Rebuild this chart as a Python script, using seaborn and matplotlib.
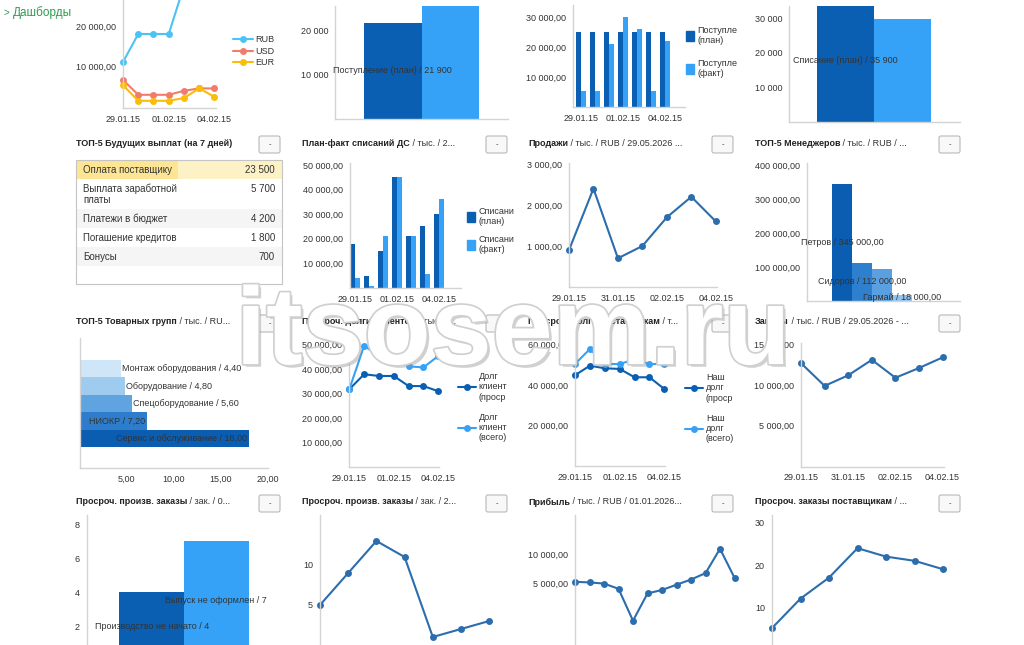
import numpy as np
import pandas as pd
import seaborn as sns
import matplotlib.pyplot as plt
import matplotlib.patheffects as pe
from matplotlib.patches import Rectangle, FancyBboxPatch, Patch
from matplotlib.lines import Line2D

sns.set_style("white")
plt.rcParams['font.family'] = ['Liberation Sans', 'DejaVu Sans']

W, H = 1024, 645
DARK = "#0b5fb3"
LIGHT = "#35a2f7"
STEEL = "#2c6dad"
TXT = "#333333"
GRID = "#d3d3d3"

# --- data ---
days = ["29.01.15", "30.01.15", "31.01.15", "01.02.15", "02.02.15", "03.02.15", "04.02.15"]

cash_rub = [11000, 18000, 18000, 18000, 30000, 30000, 30000]
cash_usd = [6500, 2800, 2800, 2800, 3800, 4400, 4400]
cash_eur = [5200, 1300, 1300, 1300, 2000, 4400, 2300]

income_names = ["Поступление (план)", "Поступление (факт)"]
income_totals = [21900, 25700]
income_plan = [25000, 25000, 25000, 25000, 25000, 25000, 25000]
income_fact = [5500, 5500, 21000, 30000, 26000, 5500, 22000]

spend_names = ["Списание (план)", "Списание (факт)"]
spend_totals = [35900, 29800]
spend_plan = [18000, 5000, 15000, 45000, 21000, 25000, 30000]
spend_fact = [4000, 1000, 21000, 45000, 21000, 5500, 36000]

pay_names = ["Оплата поставщику", "Выплата заработной\nплаты", "Платежи в бюджет",
             "Погашение кредитов", "Бонусы"]
pay_values = [23500, 5700, 4200, 1800, 700]

sales = [900, 2400, 700, 1000, 1700, 2200, 1600]

mgr_names = ["Петров", "Сидоров", "Менеджер", "Гармай"]
mgr_values = [345000, 112000, 95000, 18000]
mgr_shown = [True, True, False, True]

group_names = ["Монтаж оборудования", "Оборудование", "Спецоборудование", "НИОКР",
               "Сервис и обслуживание"]
group_values = [4.40, 4.80, 5.60, 7.20, 18.00]

clients_overdue = [31700, 37800, 37100, 37100, 33000, 33000, 30900]
clients_total = [31700, 49400, 45200, 45200, 41000, 40600, 45200]
suppl_overdue = [44800, 49500, 48200, 47900, 43800, 43800, 38000]
suppl_total = [50300, 57700, 50300, 50300, 52600, 50300, 50300]
stock = [12700, 9900, 11200, 13100, 10900, 12100, 13400]

prod_names = ["Производство не начато", "Выпуск не оформлен"]
prod_values = [4, 7]
prod_orders = [5, 9, 13, 11, 1, 2, 3]
profit = [5200, 5100, 4900, 4000, -1500, 3200, 3800, 4700, 5600, 6700, 10900, 5900]
suppl_orders = [5, 12, 17, 24, 22, 21, 19]

fig = plt.figure(figsize=(W / 100, H / 100), dpi=100)
fig.patch.set_facecolor("white")


def px_axes(l, t, r, b):
    return fig.add_axes([l / W, 1 - b / H, (r - l) / W, (b - t) / H])


def ru(v, dec=2):
    return f"{v:,.{dec}f}".replace(",", " ").replace(".", ",")


def style(ax, yticks=(), dec=2, xticks=(), xlabels=()):
    sns.despine(ax=ax)
    for side in ("left", "bottom"):
        ax.spines[side].set_color(GRID)
        ax.spines[side].set_linewidth(1)
    ax.tick_params(length=3, width=0.8, color=GRID, labelsize=6.5, labelcolor=TXT, pad=2)
    ax.set_xlabel("")
    ax.set_ylabel("")
    ax.patch.set_alpha(0)
    ax.set_yticks(list(yticks))
    ax.set_yticklabels([ru(v, dec) for v in yticks])
    ax.set_xticks(list(xticks))
    ax.set_xticklabels(list(xlabels))


def line(ax, y, color):
    sns.lineplot(x=np.arange(len(y)), y=y, color=color, marker="o", markersize=5,
                 markeredgewidth=0, linewidth=1.5, ax=ax, clip_on=False)


def legend(ax, handles, labels, x, y, **kw):
    leg = ax.legend(handles, labels, loc="upper left", bbox_to_anchor=(x / W, 1 - y / H),
                    bbox_transform=fig.transFigure, frameon=False, fontsize=6.5,
                    borderpad=0, borderaxespad=0, **kw)
    for t in leg.get_texts():
        t.set_color(TXT)


def grouped(ax, plan, fact, names):
    df = pd.DataFrame({"day": days * 2, "series": [names[0]] * 7 + [names[1]] * 7,
                       "value": plan + fact})
    sns.barplot(data=df, x="day", y="value", hue="series", palette=[DARK, LIGHT],
                saturation=1, width=0.72, linewidth=0, legend=False, ax=ax)


def pair_bars(ax, names, values, dec=0, colors=(DARK, LIGHT)):
    sns.barplot(x=names, y=values, hue=names, palette=list(colors), width=1,
                saturation=1, linewidth=0, legend=False, ax=ax)
    ax.text(0, values[0] / 2, f"{names[0]} / {ru(values[0], dec)}", ha="center",
            va="center", fontsize=6.5, color=TXT)


sq = dict(handlelength=0.9, handleheight=1.3, handletextpad=0.4)

# --- row 1 ---
axA = px_axes(123, -20, 216, 108)
line(axA, cash_rub, "#4cc3f5")
line(axA, cash_usd, "#f27c6b")
line(axA, cash_eur, "#fbbd08")
axA.set_xlim(0, 6.1)
axA.set_ylim(-500, 31500)
style(axA, [10000, 20000], 2, [0, 3, 6], [days[0], days[3], days[6]])
legend(axA, [Line2D([], [], color=c, marker="o", markersize=5, lw=1.5, markeredgewidth=0)
             for c in ("#4cc3f5", "#f27c6b", "#fbbd08")], ["RUB", "USD", "EUR"], 233, 35,
       handlelength=2.2, handletextpad=0.3, labelspacing=0.3)

axB = px_axes(335, 6, 508, 119)
pair_bars(axB, income_names, income_totals)
axB.set_xlim(-1, 2)
axB.set_ylim(0, 25680)
style(axB, [10000, 20000], 0)

axC = px_axes(573, 5, 685, 107)
grouped(axC, income_plan, income_fact, income_names)
axC.set_xlim(-0.57, 7.43)
axC.set_ylim(0, 34000)
style(axC, [10000, 20000, 30000], 2, [0, 3, 6], [days[0], days[3], days[6]])
legend(axC, [Patch(color=DARK), Patch(color=LIGHT)], ["Поступле\n(план)", "Поступле\n(факт)"],
       686, 26, labelspacing=1.5, **sq)

axD = px_axes(789, 6, 960, 122)
pair_bars(axD, spend_names, spend_totals)
axD.set_xlim(-0.99, 2.01)
axD.set_ylim(0, 33620)
style(axD, [10000, 20000, 30000], 0)

# --- row 2 ---
axF = px_axes(350, 163, 461, 288)
grouped(axF, spend_plan, spend_fact, spend_names)
axF.set_xlim(-0.36, 7.57)
axF.set_ylim(0, 50800)
style(axF, [10000, 20000, 30000, 40000, 50000], 2, [0, 3, 6], [days[0], days[3], days[6]])
legend(axF, [Patch(color=DARK), Patch(color=LIGHT)], ["Списани\n(план)", "Списани\n(факт)"],
       467, 207, labelspacing=0.9, **sq)

axG = px_axes(569, 163, 717, 287)
line(axG, sales, STEEL)
axG.set_xlim(0, 6.05)
axG.set_ylim(0, 3024)
style(axG, [1000, 2000, 3000], 2, [0, 2, 4, 6], days[::2])

axH = px_axes(807, 163, 960, 301)
sns.barplot(x=mgr_names, y=mgr_values, hue=mgr_names, saturation=1,
            palette=["#0a5db0", "#2f7fcf", "#5aa0e0", "#90c4f0"], width=1, linewidth=0,
            legend=False, ax=axH)
for i, (n, v, s) in enumerate(zip(mgr_names, mgr_values, mgr_shown)):
    if s:
        axH.text(i, v / 2, f"{n} / {ru(v)}", ha="center", va="center", fontsize=6.5, color=TXT)
axH.set_xlim(-1.75, 5.9)
axH.set_ylim(0, 405900)
style(axH, [100000, 200000, 300000, 400000], 2)

# --- row 3 ---
axI = px_axes(79.5, 338, 268, 468)
sns.barplot(x=group_values, y=group_names, hue=group_names, orient="h", saturation=1,
            palette=["#cfe5f8", "#9fcbef", "#5fa3e0", "#2d7dcc", "#0a5db0"], width=1,
            linewidth=0, legend=False, ax=axI)
for i, (n, v) in enumerate(zip(group_names, group_values)):
    if v >= 7:
        axI.text(v - 0.2, i, f"{n} / {ru(v)}", ha="right", va="center", fontsize=6.5, color=TXT)
    else:
        axI.text(v + 0.1, i, f"{n} / {ru(v)}", ha="left", va="center", fontsize=6.5, color=TXT)
axI.set_xlim(0, 20)
axI.set_ylim(5.71, -1.76)
style(axI, (), 2, [5, 10, 15, 20], [ru(v) for v in (5, 10, 15, 20)])

axJ = px_axes(349.3, 343, 439, 467.3)
line(axJ, clients_overdue, DARK)
line(axJ, clients_total, LIGHT)
axJ.set_xlim(0, 6.05)
axJ.set_ylim(0, 50500)
style(axJ, [10000, 20000, 30000, 40000, 50000], 2, [0, 3, 6], [days[0], days[3], days[6]])
legend(axJ, [Line2D([], [], color=c, marker="o", markersize=5, lw=1.5, markeredgewidth=0)
             for c in (DARK, LIGHT)], ["Долг\nклиент\n(проср", "Долг\nклиент\n(всего)"],
       458, 372, handlelength=2.0, handletextpad=0.3, labelspacing=1.2)

axK = px_axes(575, 342, 665.1, 466.4)
line(axK, suppl_overdue, DARK)
line(axK, suppl_total, LIGHT)
axK.set_xlim(0, 6.05)
axK.set_ylim(0, 61130)
style(axK, [20000, 40000, 60000], 2, [0, 3, 6], [days[0], days[3], days[6]])
legend(axK, [Line2D([], [], color=c, marker="o", markersize=5, lw=1.5, markeredgewidth=0)
             for c in (DARK, LIGHT)], ["Наш\nдолг\n(проср", "Наш\nдолг\n(всего)"],
       685, 373, handlelength=2.0, handletextpad=0.3, labelspacing=1.2)

axL = px_axes(801, 343, 943.8, 466.5)
line(axL, stock, STEEL)
axL.set_xlim(0, 6.05)
axL.set_ylim(0, 15170)
style(axL, [5000, 10000, 15000], 2, [0, 2, 4, 6], days[::2])

# --- row 4 ---
axM = px_axes(87, 515, 281, 660)
pair_bars(axM, prod_names, prod_values)
axM.text(1, prod_values[1] / 2, f"{prod_names[1]} / {prod_values[1]}", ha="center",
         va="center", fontsize=6.5, color=TXT)
axM.set_xlim(-1, 2)
axM.set_ylim(0, 8.53)
style(axM, [2, 4, 6, 8], 0)

axN = px_axes(320, 515, 320 + 6.1 * 28.2, 660)
line(axN, prod_orders, STEEL)
axN.set_xlim(0, 6.1)
axN.set_ylim(-1.875, 16.25)
style(axN, [5, 10], 0)

axO = px_axes(575, 515, 738, 660)
line(axO, profit, STEEL)
axO.set_xlim(0, 11.24)
axO.set_ylim(-8276, 16724)
style(axO, [5000, 10000], 2)

axP = px_axes(772, 515, 772 + 6.1 * 28.5, 660)
line(axP, suppl_orders, STEEL)
axP.set_xlim(0, 6.1)
axP.set_ylim(-2.6, 31.9)
style(axP, [10, 20, 30], 0)

# --- overlay: titles, table, buttons, watermark ---
ov = fig.add_axes([0, 0, 1, 1], zorder=10)
ov.set_xlim(0, W)
ov.set_ylim(H, 0)
ov.axis("off")
ov.patch.set_visible(False)

ov.text(3, 13, ">", color="#2e9c4f", fontsize=7, va="center")
ov.text(13, 13, "Дашборды", color="#2e9c4f", fontsize=8.5, va="center")

titles = [
    (76, 143, "ТОП-5 Будущих выплат (на 7 дней)", ""),
    (302, 143, "План-факт списаний ДС", " / тыс. / 2..."),
    (528, 143, "Продажи", " / тыс. / RUB / 29.05.2026 ..."),
    (755, 143, "ТОП-5 Менеджеров", " / тыс. / RUB / ..."),
    (76, 322, "ТОП-5 Товарных групп", " / тыс. / RU..."),
    (302, 322, "Просроч. долги клиентов", " / тыс. / ..."),
    (528, 322, "Просроч. долги поставщикам", " / т..."),
    (755, 322, "Запасы", " / тыс. / RUB / 29.05.2026 - ..."),
    (76, 502, "Просроч. произв. заказы", " / зак. / 0..."),
    (302, 502, "Просроч. произв. заказы", " / зак. / 2..."),
    (528, 502, "Прибыль", " / тыс. / RUB / 01.01.2026..."),
    (755, 502, "Просроч. заказы поставщикам", " / ..."),
]
for x, y, bold, rest in titles:
    t = ov.text(x, y, bold, fontsize=6.5, fontweight="bold", color="#222222", va="center")
    if rest:
        ov.annotate(rest, xy=(1, 0.5), xycoords=t, va="center", ha="left", fontsize=6.5,
                    color="#333333")

for bx in (259, 486, 712, 939):
    for by in (136, 315, 495):
        ov.add_patch(FancyBboxPatch((bx, by), 21, 17, boxstyle="round,pad=0,rounding_size=2",
                                    fc="#f8f8f8", ec="#b8b8b8", lw=0.8))
        ov.text(bx + 10.5, by + 8.5, "-", ha="center", va="center", fontsize=5.5, color="#333")

# table of payments
row_tops = [160, 179, 209, 228, 247]
row_h = [19, 30, 19, 19, 19]
row_fc = ["#fdf1c6", "white", "#f5f5f5", "white", "#f5f5f5"]
for top, h, fc in zip(row_tops, row_h, row_fc):
    ov.add_patch(Rectangle((76, top), 206, h, fc=fc, ec="none"))
ov.add_patch(Rectangle((76, 160), 102, 19, fc="#fde594", ec="none"))
ov.add_patch(Rectangle((76, 160), 206, 124, fill=False, ec="#c4c4c4", lw=0.8))
for top, n, v in zip(row_tops, pay_names, pay_values):
    ov.text(83, top + 5, n, fontsize=7, color=TXT, va="top", ha="left", linespacing=1.1)
    ov.text(275, top + 5, ru(v, 0), fontsize=7, color=TXT, va="top", ha="right")

# watermark
ov.text(513, 336, "itsosem.ru", fontsize=79, fontweight="bold", color="white",
        ha="center", va="center",
        path_effects=[pe.withSimplePatchShadow(offset=(2, -2), shadow_rgbFace="#9a9a9a", alpha=0.45),
                      pe.withStroke(linewidth=2.5, foreground="#d0d0d0")])

fig.savefig("out.png", dpi=100, facecolor="white")
